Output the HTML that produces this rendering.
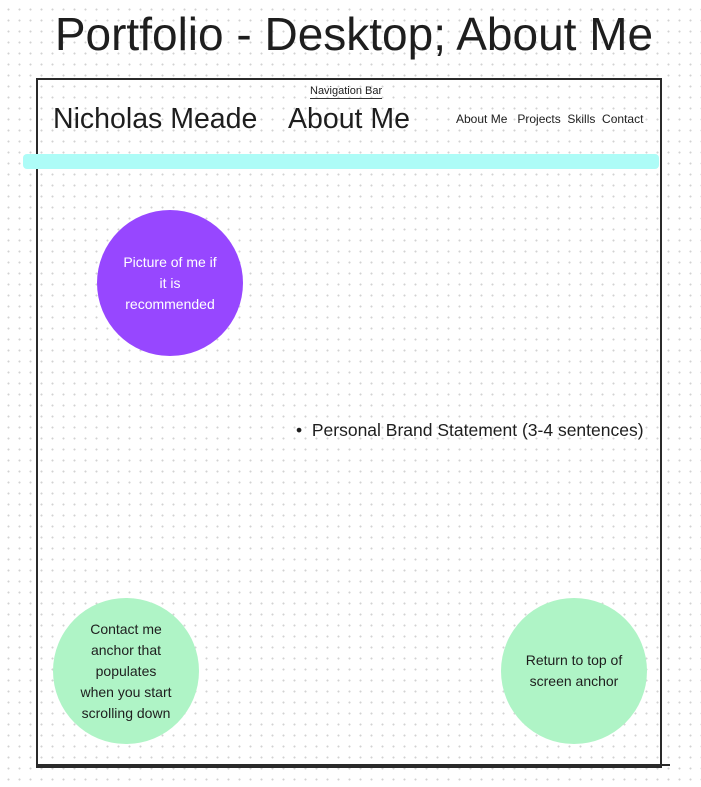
<!DOCTYPE html>
<html><head><meta charset="utf-8"><style>
body{margin:0;width:701px;height:787px;position:relative;overflow:hidden;background:#fff;font-family:"Liberation Sans",sans-serif;color:#1e1e1e;
background-image:radial-gradient(circle,#d2d2d2 0.8px,transparent 1.2px);background-size:11px 11px;background-position:3px 4px}
.a{position:absolute}
.c{position:absolute;border-radius:50%;display:flex;align-items:center;justify-content:center;text-align:center;font-size:14px;line-height:21px}
</style></head><body>
<div class="a" style="left:0;top:5px;width:708px;text-align:center;font-size:46px;line-height:58px;">Portfolio - Desktop; About Me</div>
<div class="a" style="left:36px;top:78px;width:622px;height:686px;border:2px solid #2a2a2a"></div>
<div class="a" style="left:36px;top:764px;width:634px;height:2px;background:#2a2a2a"></div>
<div class="a" style="left:310px;top:84px;font-size:11px;line-height:14px;border-bottom:1px solid #333">Navigation Bar</div>
<div class="a" style="left:53px;top:102px;font-size:28.5px;line-height:34px">Nicholas Meade</div>
<div class="a" style="left:288px;top:102px;font-size:28.5px;line-height:34px">About Me</div>
<div class="a" style="left:456px;top:111px;font-size:12px;line-height:16px">About Me&nbsp;&nbsp; Projects&nbsp; Skills&nbsp; Contact</div>
<div class="a" style="left:23px;top:154px;width:636px;height:15px;background:#adfcf7;border-radius:4px"></div>
<div class="c" style="left:97px;top:210px;width:146px;height:146px;background:#9747ff;color:#fff">Picture of me if<br>it is<br>recommended</div>
<div class="a" style="left:296px;top:419px;font-size:17.5px;line-height:22px">•&nbsp; Personal Brand Statement (3-4 sentences)</div>
<div class="c" style="left:53px;top:598px;width:146px;height:146px;background:#aff4c6">Contact me<br>anchor that<br>populates<br>when you start<br>scrolling down</div>
<div class="c" style="left:501px;top:598px;width:146px;height:146px;background:#aff4c6">Return to top of<br>screen anchor</div>
</body></html>
